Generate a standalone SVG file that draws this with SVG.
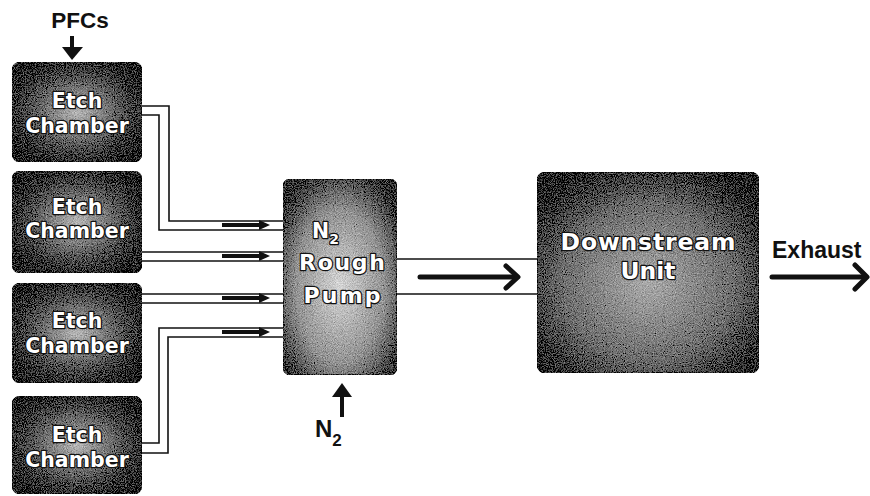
<svg xmlns="http://www.w3.org/2000/svg" width="870" height="496" viewBox="0 0 870 496">
<style>
.lbl{font-family:"DejaVu Sans",Verdana,sans-serif;font-weight:bold;fill:#fff;stroke:#111;stroke-width:2.5;paint-order:stroke;stroke-linejoin:round;text-anchor:middle}
.ext{font-family:"Liberation Sans",Arial,sans-serif;font-weight:bold;fill:#111}
.pipe{fill:none;stroke:#111;stroke-width:1.6}
.ar{fill:none;stroke:#111;stroke-width:4}
.head{fill:#111}
.chev{fill:none;stroke:#111;stroke-width:5;stroke-linecap:round;stroke-linejoin:round}
</style>
<defs>
<radialGradient id="gCh" cx="50%" cy="50%" r="62%">
<stop offset="0" stop-color="#b8b8b8"/><stop offset="0.55" stop-color="#5a5a5a"/><stop offset="1" stop-color="#151515"/>
</radialGradient>
<radialGradient id="gPump" cx="50%" cy="55%" r="65%">
<stop offset="0" stop-color="#d6d6d6"/><stop offset="0.6" stop-color="#939393"/><stop offset="1" stop-color="#2e2e2e"/>
</radialGradient>
<radialGradient id="gDown" cx="50%" cy="55%" r="65%">
<stop offset="0" stop-color="#ababab"/><stop offset="0.6" stop-color="#6e6e6e"/><stop offset="1" stop-color="#1e1e1e"/>
</radialGradient>
<filter id="grain" x="0" y="0" width="100%" height="100%">
<feTurbulence type="fractalNoise" baseFrequency="0.9" numOctaves="2" seed="7" result="n"/>
<feColorMatrix in="n" type="matrix" values="0.33 0.33 0.33 0 0 0.33 0.33 0.33 0 0 0.33 0.33 0.33 0 0 0 0 0 0 1" result="g"/>
<feComposite in="SourceGraphic" in2="g" operator="arithmetic" k1="0" k2="1" k3="1.1" k4="-0.55" result="m"/>
<feComposite in="m" in2="SourceAlpha" operator="in"/>
</filter>
</defs>

<g id="connectors">
<!-- PFCs arrow -->
<line class="ar" x1="72" y1="36" x2="72" y2="50" stroke-width="3.5"/>
<polygon class="head" points="62,47 83,47 72,60"/>
<!-- N2 arrow -->
<line class="ar" x1="342" y1="417" x2="342" y2="395" stroke-width="3.5"/>
<polygon class="head" points="332,397 352,397 342,383"/>
<!-- pipe 1 -->
<path class="pipe" d="M142,106 H169 V221 H284"/>
<path class="pipe" d="M142,115 H159 V230 H284"/>
<!-- pipe 2 -->
<path class="pipe" d="M142,252 H284"/>
<path class="pipe" d="M142,261 H284"/>
<!-- pipe 3 -->
<path class="pipe" d="M142,294 H284"/>
<path class="pipe" d="M142,303 H284"/>
<!-- pipe 4 -->
<path class="pipe" d="M142,443 H159 V328 H284"/>
<path class="pipe" d="M142,453 H168 V337 H284"/>
<!-- pipe arrows -->
<line class="ar" x1="222" y1="225" x2="262" y2="225"/><polygon class="head" points="259,220 270,225 259,230"/>
<line class="ar" x1="222" y1="256" x2="262" y2="256"/><polygon class="head" points="259,251 270,256 259,261"/>
<line class="ar" x1="222" y1="298" x2="262" y2="298"/><polygon class="head" points="259,293 270,298 259,303"/>
<line class="ar" x1="222" y1="332" x2="262" y2="332"/><polygon class="head" points="259,327 270,332 259,337"/>
<!-- main pipe -->
<path class="pipe" d="M396,259 H538"/>
<path class="pipe" d="M396,294 H538"/>
<line class="chev" x1="420" y1="277" x2="516" y2="277"/>
<polyline class="chev" points="506,266 518,277 506,288"/>
<!-- exhaust arrow -->
<line class="chev" x1="772" y1="277" x2="865" y2="277"/>
<polyline class="chev" points="855,265 867,277 855,289"/>
</g>

<g id="label-pfcs"><text class="ext" x="80" y="28" font-size="22.5" text-anchor="middle">PFCs</text></g>

<g id="chamber1">
<rect x="12" y="62" width="130" height="100" rx="9" fill="url(#gCh)" stroke="#111" stroke-width="1.5" filter="url(#grain)"/>
<text class="lbl" x="77" y="108" font-size="20.5">Etch</text>
<text class="lbl" x="77" y="133" font-size="20.5">Chamber</text>
</g>
<g id="chamber2">
<rect x="12" y="171" width="130" height="102" rx="9" fill="url(#gCh)" stroke="#111" stroke-width="1.5" filter="url(#grain)"/>
<text class="lbl" x="77" y="214" font-size="20.5">Etch</text>
<text class="lbl" x="77" y="238" font-size="20.5">Chamber</text>
</g>
<g id="chamber3">
<rect x="12" y="283" width="130" height="100" rx="9" fill="url(#gCh)" stroke="#111" stroke-width="1.5" filter="url(#grain)"/>
<text class="lbl" x="77" y="328" font-size="20.5">Etch</text>
<text class="lbl" x="77" y="353" font-size="20.5">Chamber</text>
</g>
<g id="chamber4">
<rect x="12" y="396" width="130" height="98" rx="9" fill="url(#gCh)" stroke="#111" stroke-width="1.5" filter="url(#grain)"/>
<text class="lbl" x="77" y="442" font-size="20.5">Etch</text>
<text class="lbl" x="77" y="467" font-size="20.5">Chamber</text>
</g>

<g id="pump">
<rect x="283" y="179" width="114" height="196" rx="8" fill="url(#gPump)" stroke="#222" stroke-width="1.5" filter="url(#grain)"/>
<text class="lbl" x="312" y="238" font-size="20.5" style="text-anchor:start">N<tspan font-size="14" dy="6">2</tspan></text>
<text class="lbl" x="342" y="270" font-size="22" textLength="86" lengthAdjust="spacing">Rough</text>
<text class="lbl" x="342" y="303" font-size="22" textLength="77" lengthAdjust="spacing">Pump</text>
</g>

<g id="downstream">
<rect x="537" y="172" width="222" height="201" rx="9" fill="url(#gDown)" stroke="#111" stroke-width="1.5" filter="url(#grain)"/>
<text class="lbl" x="648" y="250" font-size="23.5" textLength="175" lengthAdjust="spacing">Downstream</text>
<text class="lbl" x="648" y="279" font-size="23.5">Unit</text>
</g>

<g id="label-exhaust"><text class="ext" x="772" y="258" font-size="23">Exhaust</text></g>
<g id="label-n2"><text class="ext" x="315" y="437" font-size="24">N<tspan font-size="17" dy="9">2</tspan></text></g>
</svg>
